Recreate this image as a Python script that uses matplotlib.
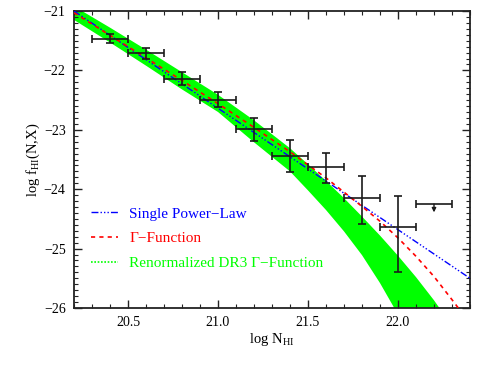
import matplotlib
matplotlib.use("Agg")
import matplotlib.pyplot as plt
from matplotlib.lines import Line2D
from matplotlib.ticker import MultipleLocator, FormatStrFormatter
import numpy as np

# ---------------- data ----------------
bin_x = [20.4, 20.6, 20.8, 21.0, 21.2, 21.4, 21.6, 21.8, 22.0]
bin_halfwidth = [0.1, 0.1, 0.1, 0.1, 0.1, 0.1, 0.1, 0.1, 0.1]
logf = [-21.47, -21.71, -22.14, -22.49, -22.99, -23.44, -23.63, -24.14, -24.64]
logf_hi = [-21.39, -21.63, -22.03, -22.37, -22.80, -23.18, -23.39, -23.77, -24.12]
logf_lo = [-21.54, -21.81, -22.24, -22.61, -23.19, -23.71, -23.90, -24.58, -25.39]

ul_x = [22.2]
ul_halfwidth = [0.1]
ul_y = [-24.25]
ul_arrow = [0.14]

pl_x = [20.2, 22.4]
pl_y = [-21.0, -25.5]

gam_x = [20.2, 20.4, 20.6, 20.8, 21.0, 21.2, 21.4, 21.6, 21.8, 21.9, 22.0,
         22.1, 22.2, 22.3, 22.35]
gam_y = [-21.03, -21.41, -21.79, -22.17, -22.56, -22.96, -23.37, -23.81,
         -24.29, -24.54, -24.82, -25.13, -25.47, -25.86, -26.06]

band_x = [20.2, 20.4, 20.6, 20.8, 21.0, 21.2, 21.4, 21.5, 21.6, 21.7, 21.8,
          21.9, 22.0, 22.1, 22.2, 22.3]
band_hi = [-20.92, -21.28, -21.65, -22.03, -22.41, -22.84, -23.31, -23.58,
           -23.86, -24.15, -24.46, -24.78, -25.12, -25.48, -25.87, -26.30]
band_lo = [-21.15, -21.53, -21.92, -22.32, -22.70, -23.21, -23.70, -24.02,
           -24.35, -24.71, -25.11, -25.58, -26.11, -26.70, -27.40, -28.20]

labels = ["Single Power\u2212Law", "\u0393\u2212Function",
          "Renormalized DR3 \u0393\u2212Function"]

# ---------------- style ----------------
plt.rcParams["font.family"] = ["Liberation Serif", "DejaVu Serif"]
plt.rcParams["mathtext.fontset"] = "custom"
plt.rcParams["mathtext.rm"] = "Liberation Serif"
plt.rcParams["mathtext.it"] = "Liberation Serif:italic"
plt.rcParams["axes.unicode_minus"] = True

fig = plt.figure(figsize=(4.85, 3.68), dpi=100)
ax = fig.add_axes([74 / 485, 60 / 368, 396 / 485, 297 / 368])

ax.fill_between(band_x, band_lo, band_hi, color="#00ff00", lw=0, zorder=1)

blue = "#0000ff"
red = "#ff0000"
green = "#00ff00"
ax.plot(pl_x, pl_y, color=blue, lw=1.0,
        linestyle=(0, (5, 1.5, 1, 1.5, 1, 1.5, 1, 1.5)), zorder=3)
ax.plot(gam_x, gam_y, color=red, lw=1.2, linestyle=(0, (2.5, 2.5)), zorder=3)

yerr = [np.array(logf) - np.array(logf_lo), np.array(logf_hi) - np.array(logf)]
ax.errorbar(bin_x, logf, xerr=bin_halfwidth, yerr=yerr, fmt="none",
            ecolor="#1a1a1a", elinewidth=1.2, capsize=2.6, capthick=1.2,
            zorder=4)
ax.errorbar(ul_x, ul_y, xerr=ul_halfwidth, fmt="none", ecolor="#1a1a1a",
            elinewidth=1.2, capsize=2.6, capthick=1.2, zorder=4)
for x, y, a in zip(ul_x, ul_y, ul_arrow):
    ax.annotate("", xy=(x, y - a), xytext=(x, y),
                arrowprops=dict(arrowstyle="-|>", color="#1a1a1a", lw=1.0,
                                mutation_scale=6, shrinkA=0, shrinkB=0),
                zorder=4)

ax.set_xlim(20.2, 22.4)
ax.set_ylim(-26, -21)
ax.xaxis.set_major_locator(MultipleLocator(0.5))
ax.xaxis.set_minor_locator(MultipleLocator(0.1))
ax.yaxis.set_major_locator(MultipleLocator(1))
ax.yaxis.set_minor_locator(MultipleLocator(0.1))
ax.xaxis.set_major_formatter(FormatStrFormatter("%.1f"))
ax.yaxis.set_major_formatter(
    matplotlib.ticker.FuncFormatter(lambda v, p: "\u2212%d" % abs(round(v)) if v < 0 else "%d" % round(v)))
ax.tick_params(which="both", direction="in", top=True, right=True,
               labelsize=10, color="#222222")
ax.tick_params(which="major", length=6, width=1.0, pad=6)
ax.tick_params(which="minor", length=3, width=0.8)
for s in ax.spines.values():
    s.set_linewidth(1.3)
    s.set_color("#222222")

ax.set_xlabel(r"log N$_{\rm HI}$", fontsize=10.5, labelpad=1)
ax.set_ylabel(r"log f$_{\rm HI}$(N,X)", fontsize=10.5, labelpad=1)

handles = [
    Line2D([], [], color=blue, lw=1.0, linestyle=(0, (5, 1.5, 1, 1.5, 1, 1.5, 1, 1.5))),
    Line2D([], [], color=red, lw=1.2, linestyle=(0, (2.5, 2.5))),
    Line2D([], [], color=green, lw=1.2, linestyle=(0, (1, 1))),
]
leg = ax.legend(handles, labels, loc="upper left",
                bbox_to_anchor=((91 - 74) / 396, (308 - 207) / 297),
                frameon=False, fontsize=11, handlelength=1.75,
                handletextpad=0.75, labelspacing=0.72, borderpad=0,
                borderaxespad=0)
for t, c in zip(leg.get_texts(), [blue, red, green]):
    t.set_color(c)

fig.savefig("out.png", dpi=100)
